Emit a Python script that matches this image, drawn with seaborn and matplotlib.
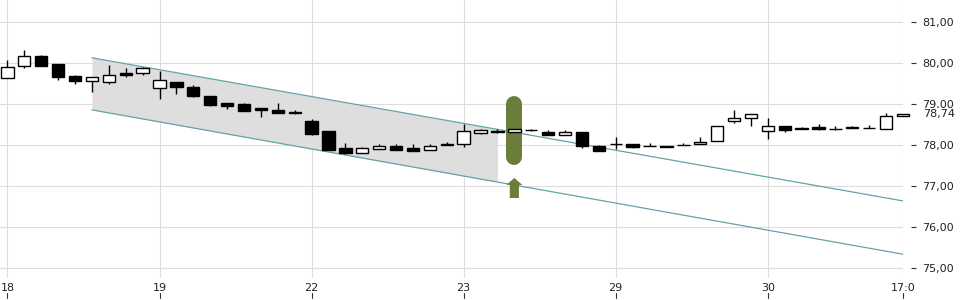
import matplotlib
matplotlib.use("Agg")
import matplotlib.pyplot as plt
from matplotlib.transforms import blended_transform_factory
import numpy as np
import pandas as pd
import seaborn as sns

# ---- data -------------------------------------------------------------
opens = [79.62, 79.93, 80.16, 79.96, 79.67, 79.55, 79.52, 79.74, 79.74,
         79.38, 79.52, 79.40, 79.18, 79.01, 78.99, 78.89, 78.84, 78.79,
         78.58, 78.33, 77.91, 77.80, 77.89, 77.98, 77.91, 77.86, 77.99,
         78.01, 78.29, 78.33, 78.30, 78.35, 78.31, 78.23, 78.30, 77.96,
         78.02, 78.01, 77.98, 77.98, 77.99, 78.01, 78.09, 78.57, 78.64,
         78.34, 78.45, 78.42, 78.44, 78.39, 78.44, 78.40, 78.38, 78.69]
highs = [80.07, 80.30, 80.20, 79.96, 79.69, 79.64, 79.94, 79.88, 79.89,
         79.80, 79.52, 79.45, 79.18, 79.01, 79.01, 78.89, 79.01, 78.84,
         78.62, 78.33, 78.04, 77.94, 78.03, 78.03, 78.01, 78.01, 78.06,
         78.50, 78.38, 78.38, 78.38, 78.38, 78.35, 78.37, 78.30, 78.00,
         78.18, 78.02, 78.04, 77.98, 78.04, 78.20, 78.45, 78.84, 78.74,
         78.64, 78.45, 78.44, 78.50, 78.45, 78.46, 78.47, 78.77, 78.75]
lows = [79.62, 79.88, 79.92, 79.59, 79.49, 79.29, 79.49, 79.66, 79.71,
        79.12, 79.23, 79.16, 78.94, 78.86, 78.83, 78.67, 78.78, 78.74,
        78.24, 77.86, 77.77, 77.79, 77.89, 77.86, 77.85, 77.86, 77.99,
        77.94, 78.27, 78.29, 78.30, 78.34, 78.23, 78.23, 77.92, 77.84,
        77.89, 77.93, 77.97, 77.95, 77.99, 78.01, 78.09, 78.52, 78.45,
        78.14, 78.30, 78.38, 78.35, 78.35, 78.40, 78.40, 78.38, 78.69]
closes = [79.90, 80.17, 79.92, 79.64, 79.55, 79.64, 79.71, 79.71, 79.88,
          79.59, 79.42, 79.18, 78.96, 78.95, 78.83, 78.84, 78.78, 78.78,
          78.27, 77.86, 77.80, 77.91, 77.96, 77.86, 77.85, 77.98, 78.03,
          78.33, 78.35, 78.32, 78.38, 78.35, 78.23, 78.31, 77.96, 77.84,
          78.02, 77.95, 77.97, 77.95, 77.99, 78.07, 78.45, 78.64, 78.74,
          78.46, 78.37, 78.38, 78.39, 78.39, 78.40, 78.40, 78.69, 78.74]

day_ticks = [0, 9, 18, 27, 36, 45, 53]
day_labels = ["18", "19", "22", "23", "29", "30", "17:0"]
price_ticks = [75, 76, 77, 78, 79, 80, 81]
price_labels = ["75,00", "76,00", "77,00", "78,00", "79,00", "80,00", "81,00"]
last_price = 78.74
last_label = "78,74"

channel_x = [5, 53]
channel_upper = [80.12, 76.63]
channel_lower = [78.85, 75.33]
shade_end = 29

signal_x = 30
signal_top = 78.99
signal_bottom = 77.71
arrow_tip = 77.19
arrow_neck = 77.02
arrow_base = 76.70

# ---- style ------------------------------------------------------------
sns.set_theme(style="white")
plt.rcParams["font.family"] = ["DejaVu Sans"]

fig = plt.figure(figsize=(9.6, 3.0), dpi=100)
ax = fig.add_axes([0.0, 1 - 278 / 300, 903 / 960, 278 / 300])
ax.set_xlim(-0.44, 53)
ax.set_ylim(74.75, 81.53)

grid_c = "#dddddd"
for t in price_ticks:
    ax.axhline(t, color=grid_c, lw=0.8, zorder=0)
for t in day_ticks:
    ax.axvline(t, color=grid_c, lw=0.8, zorder=0)

# channel shading
def chan(xv, ys):
    return ys[0] + (ys[1] - ys[0]) * (xv - channel_x[0]) / (channel_x[1] - channel_x[0])

xs = np.array([channel_x[0], shade_end])
ax.fill_between(xs, chan(xs, channel_lower), chan(xs, channel_upper),
                color="#dedede", lw=0, zorder=1)

line_c = "#64a2a8"
chan_df = pd.DataFrame({
    "x": channel_x + channel_x,
    "y": channel_upper + channel_lower,
    "line": ["upper", "upper", "lower", "lower"],
})
sns.lineplot(data=chan_df, x="x", y="y", units="line", estimator=None,
             color=line_c, lw=0.9, ax=ax, zorder=2)

# signal marker
green = "#6a7d3a"
ax.plot([signal_x, signal_x], [signal_bottom, signal_top], color=green,
        lw=11.5, solid_capstyle="round", zorder=3)
hw, sw = 0.47, 0.27
ax.fill([signal_x, signal_x + hw, signal_x + sw, signal_x + sw,
         signal_x - sw, signal_x - sw, signal_x - hw],
        [arrow_tip, arrow_neck, arrow_neck, arrow_base,
         arrow_base, arrow_neck, arrow_neck],
        color=green, lw=0, zorder=3, clip_on=False)

# candles
idx = np.arange(len(opens))
o = np.array(opens); c = np.array(closes)
h = np.array(highs); l = np.array(lows)
width = 0.73
ax.vlines(idx, l, h, color="black", lw=1.0, zorder=4)
up = c >= o
bottoms = np.minimum(o, c)
heights = np.abs(c - o)
ax.bar(idx[up], heights[up], width=width, bottom=bottoms[up],
       facecolor="white", edgecolor="black", lw=1.0, zorder=5, clip_on=False)
ax.bar(idx[~up], heights[~up], width=width, bottom=bottoms[~up],
       facecolor="black", edgecolor="black", lw=1.0, zorder=5, clip_on=False)

# axes cosmetics
for s in ax.spines.values():
    s.set_visible(False)
ax.yaxis.tick_right()
ax.spines["right"].set_position(("outward", 5.5))
ax.set_yticks(price_ticks)
ax.set_yticklabels(price_labels)
ax.tick_params(axis="y", right=True, left=False, length=3.6, width=0.8,
               color="#333333", pad=5, labelsize=8, labelcolor="#222222")
ax.set_xticks(day_ticks)
ax.set_xticklabels(day_labels)
ax.tick_params(axis="x", bottom=False, length=0, pad=3.5, labelsize=8,
               labelcolor="#222222")
ax.set_xlabel("")
ax.set_ylabel("")

# small tick marks below the x labels
tr = blended_transform_factory(ax.transData, ax.transAxes)
for t in day_ticks:
    ax.plot([t, t], [-15 / 278, -20 / 278], transform=tr, color="#333333",
            lw=0.8, clip_on=False)

# current price label
ax.text(1.0, last_price, last_label, transform=blended_transform_factory(ax.transAxes, ax.transData),
        ha="left", va="center", fontsize=8, color="#222222",
        bbox=dict(boxstyle="square,pad=0.15", fc="white", ec="none"),
        zorder=10, clip_on=False)
# shift label to align with tick labels
import matplotlib.transforms as mtransforms
ax.texts[-1].set_transform(mtransforms.offset_copy(
    blended_transform_factory(ax.transAxes, ax.transData), fig=fig, x=20, y=0, units="dots"))

fig.savefig("out.png", dpi=100)
